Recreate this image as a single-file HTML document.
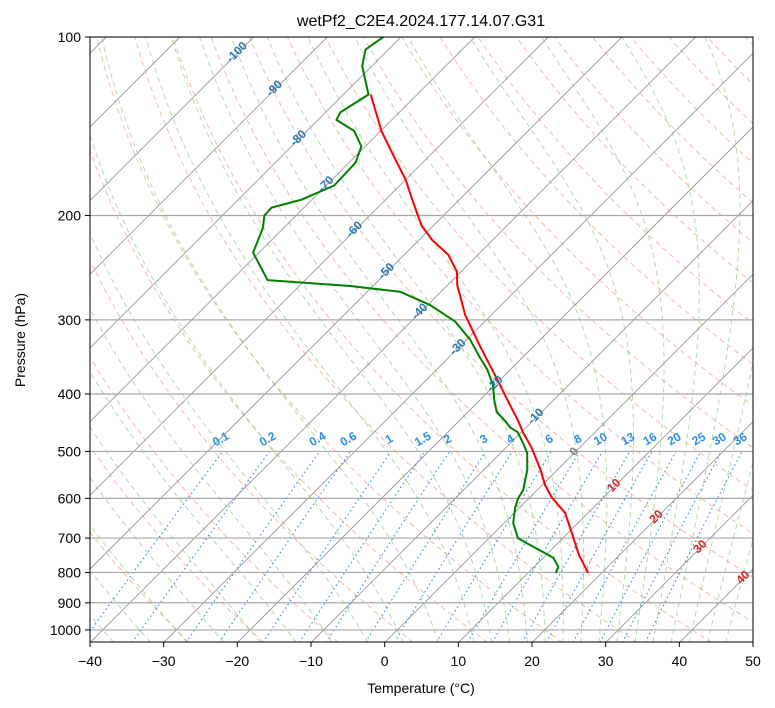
<!DOCTYPE html>
<html><head><meta charset="utf-8"><style>
html,body{margin:0;padding:0;background:#fff;}
svg{display:block;font-family:"Liberation Sans",sans-serif;}
</style></head><body>
<svg id="c" width="775" height="708" viewBox="0 0 775 708" xmlns="http://www.w3.org/2000/svg">
<defs><clipPath id="clip"><rect x="90" y="37" width="663" height="605"/></clipPath></defs>
<rect x="0" y="0" width="775" height="708" fill="#fff"/>
<g id="bg" clip-path="url(#clip)"></g>
<g id="series" clip-path="url(#clip)"></g>
<g id="labels"></g>
<rect x="90" y="37" width="663" height="605" fill="none" stroke="#000" stroke-width="1"/>
<g id="axes"></g>
<text x="421" y="26" font-size="16" text-anchor="middle">wetPf2_C2E4.2024.177.14.07.G31</text>
<text x="421" y="693" font-size="14" text-anchor="middle">Temperature (°C)</text>
<text x="25" y="340" font-size="14" text-anchor="middle" transform="rotate(-90 25 340)">Pressure (hPa)</text>
</svg>
<script>
// ---- data ----
const tempP = [802,748,686,635,597,570,537,492,464,443,410,372,331,294,262,249,233,220,208,188,174,161,144,125];
const tempT = [18.2,14.5,10.5,6.9,2.9,0.4,-2.3,-6.6,-9.8,-12.1,-16.2,-21.3,-27.5,-33.6,-38.7,-40.5,-44.0,-48.2,-51.6,-56.4,-60.0,-64.1,-69.9,-76.3];
const dewP = [802,783,756,739,714,700,660,620,599,581,537,503,484,464,456,443,429,410,386,364,347,324,302,283,269,263,257,231,210,200,194,188,178,163,153,144,138,134,125,112,105,100];
const dewT = [13.8,13.3,11.4,9.2,5.8,3.9,1.2,-0.7,-1.5,-1.9,-4.1,-6.4,-8.3,-10.5,-12.1,-13.9,-16.1,-18.0,-20.3,-23.1,-25.8,-29.5,-34.0,-39.7,-45.5,-53.1,-65.1,-70.8,-72.8,-74.3,-74.4,-71.4,-68.9,-69.1,-70.5,-73.6,-77.5,-78.0,-76.6,-81.3,-83.1,-82.4];
const xTicks = [-40,-30,-20,-10,0,10,20,30,40,50];
const yTicks = [100,200,300,400,500,600,700,800,900,1000];
const isoLabelT = [-100,-90,-80,-70,-60,-50,-40,-30,-20,-10,0,10,20,30,40];
const isoLabelP = [106,122,148,177,211,248,290,333,384,436,500,570,644,723,815];
const mixW = [0.1,0.2,0.4,0.6,1,1.5,2,3,4,6,8,10,13,16,20,25,30,36];
const dryT0 = [-30,-20,-10,0,10,20,30,40,50,60,70,80,90,100,110,120,130,140,150,160,170,180,190];
const moistT0 = [-40,-35,-30,-25,-20,-15,-10,-5,0,5,10,12.5,15,17.5,20,22.5,25,27.5,30,32.5,35,37.5,40,42.5,45];

// ---- axes ----
const X0=90, XPD=7.367, YB=642.6, Y0=37, YS=257.5;
function py(p){return Y0+YS*Math.log(p/100);}
function px(T,p){const y=py(p);return X0+(T+40)*XPD+(YB-y);}
const NS="http://www.w3.org/2000/svg";
function mk(tag,attrs,parent){const e=document.createElementNS(NS,tag);for(const k in attrs)e.setAttribute(k,attrs[k]);parent.appendChild(e);return e;}
const bg=document.getElementById('bg'), ser=document.getElementById('series'), lab=document.getElementById('labels'), ax=document.getElementById('axes');
function pts(arrP,arrT){return arrP.map((p,i)=>px(arrT[i],p).toFixed(1)+','+py(p).toFixed(1)).join(' ');}
function presRange(a,b,n){const r=[];for(let i=0;i<=n;i++)r.push(a*Math.pow(b/a,i/n));return r;}

// dry adiabats
const PR=presRange(1050,100,60);
dryT0.forEach(t0=>{
  const T=PR.map(p=>(t0+273.15)*Math.pow(p/1000,0.2857)-273.15);
  const l=mk('polyline',{points:pts(PR,T),fill:'none',stroke:'#f79a7c','stroke-opacity':'0.7','stroke-width':'1','stroke-dasharray':'5,4'},bg);
  
  
});
// moist adiabats
function es(T){return 6.112*Math.exp(17.67*T/(T+243.5));}
function moistRate(p,T){const Tk=T+273.15;const rs=0.622*es(T)/(p-es(T));const Rd=287.04,Cp=1005.7,Lv=2.501e6;
  return (Rd*Tk+Lv*rs)/(Cp+Lv*Lv*rs*0.622/(Rd*Tk*Tk))/p;}
moistT0.forEach(t0=>{
  const P=[],T=[];let t=t0,p=1000;
  let tt=t0;for(let q=1000;q<1050;q+=5){tt+=moistRate(q,tt)*5;}
  P.push(1050);T.push(tt);P.push(1000);T.push(t0);
  while(p>100){const dp=-5;t+=moistRate(p,t)*dp;p+=dp;P.push(p);T.push(t);}
  const l=mk('polyline',{points:pts(P,T),fill:'none',stroke:'#6cbf5f','stroke-opacity':'0.55','stroke-width':'1','stroke-dasharray':'5,4'},bg);
  
  
});
// mixing ratio lines
const MP=presRange(1050,500,20);
mixW.forEach(w=>{
  const T=MP.map(p=>{const e=p*(w/1000)/(0.622+w/1000);const a=Math.log(e/6.112);return 243.5*a/(17.67-a);});
  const l=mk('polyline',{points:pts(MP,T),fill:'none',stroke:'#3592f0','stroke-width':'1.2','stroke-dasharray':'1.5,3'},bg);
  
  
  const x=px(T[T.length-1],500), y=py(500)-9;
  const t=mk('text',{x:x,y:y,'font-size':'12','font-weight':'bold',fill:'#2a8ff0','text-anchor':'middle',transform:`rotate(-30 ${x} ${y})`},lab);
  t.textContent=String(w);
  
  
});
// isotherms
for(let T=-150;T<=50;T+=10){
  const l=mk('line',{x1:px(T,1050),y1:py(1050),x2:px(T,100),y2:py(100),stroke:'#999','stroke-width':'0.9'},bg);
  
  
}
// isobars
yTicks.forEach(p=>{
  const l=mk('line',{x1:90,x2:753,y1:py(p),y2:py(p),stroke:'#a8a8a8','stroke-width':'1.2'},bg);
  
  
});
// isotherm labels
isoLabelT.forEach((T,i)=>{
  const p=isoLabelP[i];const x=px(T,p)-2,y=py(p)+4;
  const col=T<0?'#2878b8':(T===0?'#808080':'#d62728');
  const t=mk('text',{x:x,y:y,'font-size':'12','font-weight':'bold',fill:col,'text-anchor':'middle',transform:`rotate(-45 ${x} ${y-4})`},lab);
  t.textContent=String(T);
  
  
});
// series
const tl=mk('polyline',{points:pts(tempP,tempT),fill:'none',stroke:'#ff0000','stroke-width':'2','stroke-linejoin':'round'},ser);


const dl=mk('polyline',{points:pts(dewP,dewT),fill:'none',stroke:'#008000','stroke-width':'2','stroke-linejoin':'round'},ser);


// ticks
xTicks.forEach(T=>{
  const x=X0+(T+40)*XPD;
  const l=mk('line',{x1:x,x2:x,y1:642,y2:647,stroke:'#000'},ax);
  
  
  const t=mk('text',{x:x,y:666,'font-size':'14','text-anchor':'middle'},ax);
  t.textContent=(T<0?'\u2212'+(-T):String(T));
  
  
});
yTicks.forEach(p=>{
  const y=py(p);
  const l=mk('line',{x1:85,x2:90,y1:y,y2:y,stroke:'#000'},ax);
  
  
  const t=mk('text',{x:81,y:y+5,'font-size':'14','text-anchor':'end'},ax);
  t.textContent=String(p);
  
  
});
</script>
</body></html>
